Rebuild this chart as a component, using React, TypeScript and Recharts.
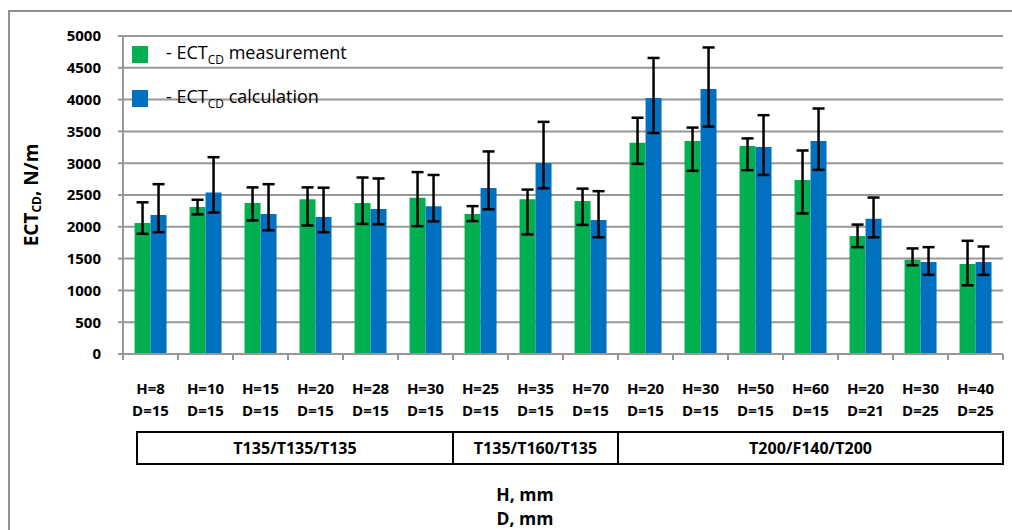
import { BarChart, Bar, XAxis, YAxis, CartesianGrid, ErrorBar } from "recharts";

// categories (two label rows) and material groups
const hLabels = ["H=8", "H=10", "H=15", "H=20", "H=28", "H=30", "H=25", "H=35", "H=70", "H=20", "H=30", "H=50", "H=60", "H=20", "H=30", "H=40"];
const dLabels = ["D=15", "D=15", "D=15", "D=15", "D=15", "D=15", "D=15", "D=15", "D=15", "D=15", "D=15", "D=15", "D=15", "D=21", "D=25", "D=25"];
const groupNames = ["T135/T135/T135", "T135/T160/T135", "T200/F140/T200"];
const groupSizes = [6, 3, 7];

// ECT_CD measurement, N/m, with error bar low / high ends
const measurement = [2060, 2310, 2375, 2435, 2375, 2455, 2200, 2435, 2405, 3320, 3350, 3270, 2735, 1855, 1480, 1415];
const measLow = [1890, 2195, 2100, 2020, 2045, 2010, 2090, 1880, 2030, 2990, 2880, 2890, 2210, 1680, 1395, 1080];
const measHigh = [2385, 2425, 2620, 2620, 2775, 2860, 2325, 2585, 2600, 3715, 3560, 3390, 3200, 2035, 1660, 1780];

// ECT_CD calculation, N/m
const calculation = [2185, 2540, 2200, 2155, 2280, 2325, 2610, 3005, 2105, 4025, 4165, 3255, 3350, 2125, 1445, 1445];
const calcLow = [1915, 2225, 1945, 1915, 2040, 2085, 2275, 2605, 1835, 3475, 3575, 2815, 2895, 1835, 1245, 1245];
const calcHigh = [2670, 3095, 2670, 2615, 2760, 2815, 3185, 3650, 2560, 4655, 4820, 3755, 3860, 2460, 1680, 1690];

const yTicks = [0, 500, 1000, 1500, 2000, 2500, 3000, 3500, 4000, 4500, 5000];

const data = hLabels.map((h, i) => ({
  idx: i,
  meas: measurement[i],
  measErr: [measurement[i] - measLow[i], measHigh[i] - measurement[i]],
  calc: calculation[i],
  calcErr: [calculation[i] - calcLow[i], calcHigh[i] - calculation[i]],
}));

const WIDTH = 1012;
const HEIGHT = 530;
const MARGIN = { top: 36, right: 9, bottom: 0, left: 0 };
const Y_AXIS_W = 123;
const X_AXIS_H = 176;
const PLOT_W = WIDTH - MARGIN.left - MARGIN.right - Y_AXIS_W;
const BAND = PLOT_W / hLabels.length;

const GREEN = "#00B050";
const BLUE = "#0070C0";
const GRID = "#979797";
const FONT = '"Open Sans", "DejaVu Sans", sans-serif';

const groupStarts = groupSizes.map((_, g) => groupSizes.slice(0, g).reduce((a, b) => a + b, 0));

const CategoryTick = (props: any) => {
  const { x, y, payload } = props;
  const i = Number(payload.value);
  const left = x - BAND / 2;
  const right = x + BAND / 2;
  const g = groupStarts.indexOf(i);
  let box = null;
  if (g >= 0) {
    const x0 = left + (g === 0 ? 14 : 0);
    const x1 = left + groupSizes[g] * BAND;
    box = (
      <g>
        <rect x={x0} y={y + 78} width={x1 - x0} height={32} fill="none" stroke="#000" strokeWidth={2} />
        <text x={(x0 + x1) / 2} y={y + 94} textAnchor="middle" dominantBaseline="central" fontSize={16} fontWeight="bold" fontFamily={FONT} fill="#000">
          {groupNames[g]}
        </text>
      </g>
    );
  }
  return (
    <g>
      <line x1={left} x2={left} y1={y} y2={y + 6} stroke={GRID} strokeWidth={2} />
      {i === hLabels.length - 1 && <line x1={right} x2={right} y1={y} y2={y + 6} stroke={GRID} strokeWidth={2} />}
      <text x={x} y={y + 34} textAnchor="middle" dominantBaseline="central" fontSize={15} fontWeight="bold" fontFamily={FONT} fill="#000">
        {hLabels[i]}
      </text>
      <text x={x} y={y + 56} textAnchor="middle" dominantBaseline="central" fontSize={15} fontWeight="bold" fontFamily={FONT} fill="#000">
        {dLabels[i]}
      </text>
      {box}
    </g>
  );
};

const YTitle = () => (
  <text x={31} y={195} transform="rotate(-90, 31, 195)" textAnchor="middle" dominantBaseline="central" fontSize={19} fontWeight="bold" fontFamily={FONT} fill="#000">
    ECT
    <tspan fontSize={12} dy={5}>CD</tspan>
    <tspan dy={-5}>, N/m</tspan>
  </text>
);

const legendItems = [
  { color: GREEN, text: "measurement" },
  { color: BLUE, text: "calculation" },
];

export default function App() {
  return (
    <div style={{ position: "absolute", left: 0, top: 0, width: WIDTH, height: HEIGHT, overflow: "hidden", background: "#fff" }}>
      <div style={{ position: "absolute", left: 8, top: 10, width: 1100, height: 600, border: "2px solid #8f8f8f" }} />
      <div style={{ position: "absolute", left: 0, top: 0 }}>
        <BarChart width={WIDTH} height={HEIGHT} data={data} margin={MARGIN} barCategoryGap="21%" barGap={0}>
          <CartesianGrid vertical={false} stroke={GRID} strokeWidth={2} />
          <XAxis
            dataKey="idx"
            type="category"
            height={X_AXIS_H}
            interval={0}
            tickLine={false}
            tickSize={0}
            tickMargin={0}
            axisLine={{ stroke: GRID, strokeWidth: 2 }}
            tick={(p: any) => <CategoryTick {...p} />}
          />
          <YAxis
            width={Y_AXIS_W}
            domain={[0, 5000]}
            ticks={yTicks}
            interval={0}
            tickSize={5}
            tickMargin={17}
            axisLine={{ stroke: GRID, strokeWidth: 2 }}
            tickLine={{ stroke: GRID, strokeWidth: 2 }}
            tick={{ fontSize: 15, fontWeight: "bold", fontFamily: FONT, fill: "#000" }}
            label={<YTitle />}
          />
          <Bar dataKey="meas" fill={GREEN} isAnimationActive={false}>
            <ErrorBar dataKey="measErr" width={6} stroke="#000" strokeWidth={2.5} direction="y" />
          </Bar>
          <Bar dataKey="calc" fill={BLUE} isAnimationActive={false}>
            <ErrorBar dataKey="calcErr" width={6} stroke="#000" strokeWidth={2.5} direction="y" />
          </Bar>
        </BarChart>
      </div>
      <div style={{ position: "absolute", left: 132, top: 32, fontFamily: FONT, fontSize: 18, color: "#000" }}>
        {legendItems.map((it, k) => (
          <div key={k} style={{ display: "flex", alignItems: "center", height: 44 }}>
            <span style={{ width: 16, height: 17, background: it.color, display: "inline-block", marginRight: 18 }} />
            <span>
              - ECT<sub style={{ fontSize: 12 }}>CD</sub> {it.text}
            </span>
          </div>
        ))}
      </div>
      <div style={{ position: "absolute", left: 425, width: 200, top: 482, textAlign: "center", fontFamily: FONT, fontSize: 17.5, fontWeight: "bold", lineHeight: "24px", color: "#000" }}>
        <div>H, mm</div>
        <div>D, mm</div>
      </div>
    </div>
  );
}
